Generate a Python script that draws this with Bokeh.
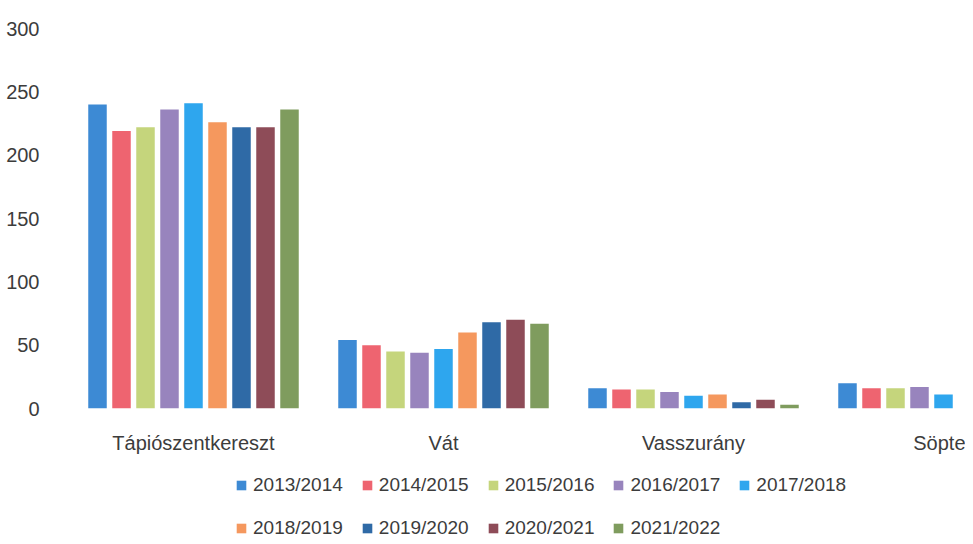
from bokeh.plotting import figure
from bokeh.layouts import column
from bokeh.models import ColumnDataSource, Range1d, FixedTicker, Legend, LegendItem
from bokeh.embed import file_html
from bokeh.resources import INLINE

nan = float("nan")

categories = ["Tápiószentkereszt", "Vát", "Vasszurány", "Söpte"]
seasons = ["2013/2014", "2014/2015", "2015/2016", "2016/2017", "2017/2018",
           "2018/2019", "2019/2020", "2020/2021", "2021/2022"]

v_2013_2014 = [240, 54, 16, 20]
v_2014_2015 = [219, 50, 15, 16]
v_2015_2016 = [222, 45, 15, 16]
v_2016_2017 = [236, 44, 13, 17]
v_2017_2018 = [241, 47, 10, 11]
v_2018_2019 = [226, 60, 11, nan]
v_2019_2020 = [222, 68, 5, nan]
v_2020_2021 = [222, 70, 7, nan]
v_2021_2022 = [236, 67, 3, nan]

series = [v_2013_2014, v_2014_2015, v_2015_2016, v_2016_2017, v_2017_2018,
          v_2018_2019, v_2019_2020, v_2020_2021, v_2021_2022]

colors = ["#3d8ad4", "#ee6470", "#c5d57c", "#9884bd", "#2ea6ee",
          "#f5985e", "#2f6aa6", "#8e4c58", "#7f9c5e"]

y_ticks = [0, 50, 100, 150, 200, 250, 300]

FONT = "Liberation Sans"
TEXT_COLOR = "#3c3c3c"

W = 965
H1, H2 = 456, 84
FL, FT, FB = 68, 28, 418
p = figure(width=W, height=H1, output_backend="svg", toolbar_location=None,
           x_range=Range1d(-0.5, -0.5 + (W - FL) / 250.0), y_range=Range1d(0, 300),
           min_border_left=FL, min_border_right=0, min_border_top=FT,
           min_border_bottom=H1 - FB)
p.outline_line_color = None
p.xgrid.grid_line_color = None
p.ygrid.grid_line_color = None

step = 0.096
bar_w = 0.074
for i, (name, vals, col) in enumerate(zip(seasons, series, colors)):
    xs = [c + (i - 4) * step for c in range(len(categories))]
    src = ColumnDataSource(dict(x=xs, top=vals))
    p.vbar(x="x", top="top", bottom=0, width=bar_w, source=src,
           fill_color=col, line_color=None)

# axes
p.yaxis.ticker = FixedTicker(ticks=y_ticks)
p.yaxis.axis_line_color = None
p.yaxis.major_tick_line_color = None
p.yaxis.minor_tick_line_color = None
p.yaxis.major_label_standoff = 23
p.yaxis.major_label_text_font = FONT
p.yaxis.major_label_text_font_size = "20px"
p.yaxis.major_label_text_color = TEXT_COLOR

p.xaxis.ticker = FixedTicker(ticks=list(range(len(categories))))
p.xaxis.major_label_overrides = {i: c for i, c in enumerate(categories)}
p.xaxis.axis_line_color = None
p.xaxis.major_tick_line_color = None
p.xaxis.minor_tick_line_color = None
p.xaxis.major_label_standoff = 17
p.xaxis.major_label_text_font = FONT
p.xaxis.major_label_text_font_size = "20px"
p.xaxis.major_label_text_color = TEXT_COLOR

# legend strip underneath (its frame is aligned with the chart frame by the column)
q = figure(width=W, height=H2, output_backend="svg", toolbar_location=None,
           x_range=Range1d(0, 1), y_range=Range1d(0, 1),
           x_axis_location=None, y_axis_location=None,
           min_border_left=FL, min_border_right=0, min_border_top=0,
           min_border_bottom=0)
q.outline_line_color = None
q.xgrid.grid_line_color = None
q.ygrid.grid_line_color = None

# legend-swatch renderers (no drawable data; only their colours are used)
leg_renderers = []
for col in colors:
    r = q.vbar(x=[nan], top=[nan], width=0.1, fill_color=col, line_color=None)
    leg_renderers.append(r)

def make_legend(idx, loc):
    items = [LegendItem(label=seasons[k], renderers=[leg_renderers[k]]) for k in idx]
    return Legend(items=items, orientation="horizontal", location=loc,
                  glyph_width=12, glyph_height=12, label_height=25,
                  label_standoff=6, spacing=18, padding=0, margin=0,
                  border_line_color=None, background_fill_alpha=0,
                  label_text_font=FONT, label_text_font_size="19px",
                  label_text_color=TEXT_COLOR)

q.add_layout(make_legend(range(0, 5), (235 - FL, 43)), "center")
q.add_layout(make_legend(range(5, 9), (235 - FL, 0)), "center")

layout = column(p, q, spacing=0)
open("out.html", "w").write(file_html(layout, INLINE))
